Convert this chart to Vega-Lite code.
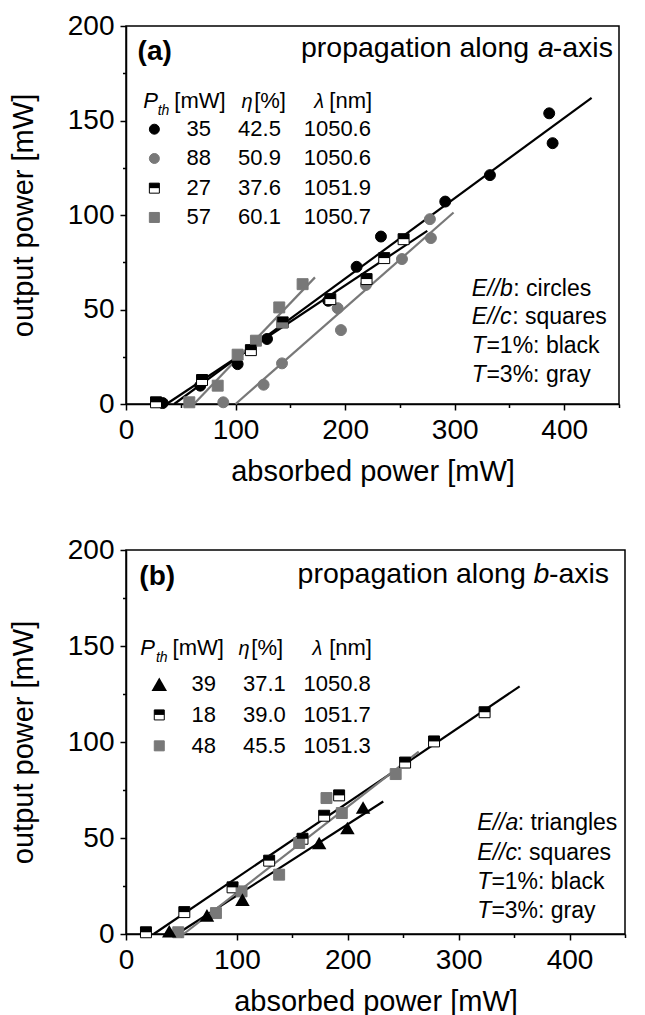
{
  "$schema": "https://vega.github.io/schema/vega-lite/v6.json",
  "background": "white",
  "padding": {"left": 8, "top": 11, "right": 0, "bottom": 0},
  "spacing": 48,
  "config": {
    "font": "Liberation Sans",
    "view": {"stroke": "black", "strokeWidth": 1.5},
    "axis": {"grid": false, "domainColor": "black", "domainWidth": 1.5, "tickColor": "black", "tickWidth": 1.5, "labelColor": "black", "titleColor": "black", "labelFontSize": 28, "titleFontSize": 29, "titleFontWeight": "normal", "labelPadding": 6, "labelFont": "Liberation Sans", "titleFont": "Liberation Sans", "labelFlush": false, "labelOverlap": false},
    "axisX": {"titlePadding": 13},
    "axisY": {"titlePadding": 29},
    "text": {"font": "Liberation Sans", "color": "black"}
  },
  "datasets": {
    "a_pts": [
      {"series": "E//b, T=1%", "x": 33.5, "y": 0.5},
      {"series": "E//b, T=1%", "x": 67.8, "y": 9.7},
      {"series": "E//b, T=1%", "x": 101.9, "y": 21.1},
      {"series": "E//b, T=1%", "x": 128.7, "y": 34.4},
      {"series": "E//b, T=1%", "x": 184.6, "y": 54.6},
      {"series": "E//b, T=1%", "x": 210.5, "y": 72.6},
      {"series": "E//b, T=1%", "x": 232.7, "y": 88.6},
      {"series": "E//b, T=1%", "x": 291.4, "y": 107.1},
      {"series": "E//b, T=1%", "x": 332.2, "y": 121.1},
      {"series": "E//b, T=1%", "x": 386.3, "y": 153.8},
      {"series": "E//b, T=1%", "x": 389.4, "y": 138.0},
      {"series": "E//b, T=3%", "x": 88.8, "y": 0.9},
      {"series": "E//b, T=3%", "x": 125.6, "y": 10.2},
      {"series": "E//b, T=3%", "x": 142.4, "y": 21.5},
      {"series": "E//b, T=3%", "x": 193.2, "y": 50.7},
      {"series": "E//b, T=3%", "x": 196.2, "y": 39.1},
      {"series": "E//b, T=3%", "x": 219.0, "y": 63.0},
      {"series": "E//b, T=3%", "x": 251.9, "y": 76.7},
      {"series": "E//b, T=3%", "x": 278.3, "y": 87.8},
      {"series": "E//b, T=3%", "x": 277.4, "y": 97.8},
      {"series": "E//c, T=1%", "x": 27.4, "y": 0.9},
      {"series": "E//c, T=1%", "x": 69.4, "y": 12.7},
      {"series": "E//c, T=1%", "x": 114.0, "y": 28.5},
      {"series": "E//c, T=1%", "x": 143.0, "y": 43.2},
      {"series": "E//c, T=1%", "x": 186.5, "y": 55.5},
      {"series": "E//c, T=1%", "x": 219.6, "y": 66.1},
      {"series": "E//c, T=1%", "x": 235.7, "y": 77.2},
      {"series": "E//c, T=1%", "x": 253.4, "y": 87.2},
      {"series": "E//c, T=3%", "x": 57.8, "y": 0.9},
      {"series": "E//c, T=3%", "x": 83.7, "y": 9.7},
      {"series": "E//c, T=3%", "x": 101.9, "y": 26.1},
      {"series": "E//c, T=3%", "x": 118.6, "y": 33.5},
      {"series": "E//c, T=3%", "x": 139.9, "y": 51.1},
      {"series": "E//c, T=3%", "x": 142.4, "y": 43.2},
      {"series": "E//c, T=3%", "x": 161.2, "y": 63.4}
    ],
    "a_lines": [
      {"series": "E//b, T=1%", "x": 44, "y": 0},
      {"series": "E//b, T=1%", "x": 425, "y": 162},
      {"series": "E//c, T=1%", "x": 37, "y": 0},
      {"series": "E//c, T=1%", "x": 275, "y": 91.6},
      {"series": "E//c, T=3%", "x": 62, "y": 0},
      {"series": "E//c, T=3%", "x": 172.5, "y": 67},
      {"series": "E//b, T=3%", "x": 100, "y": 0},
      {"series": "E//b, T=3%", "x": 299, "y": 101.3}
    ],
    "a_table": [
      {"series": "E//b, T=1%", "x": 25.9, "y": 145.4, "pth": "35", "eta": "42.5", "lam": "1050.6"},
      {"series": "E//b, T=3%", "x": 25.9, "y": 129.9, "pth": "88", "eta": "50.9", "lam": "1050.6"},
      {"series": "E//c, T=1%", "x": 25.9, "y": 114.2, "pth": "27", "eta": "37.6", "lam": "1051.9"},
      {"series": "E//c, T=3%", "x": 25.9, "y": 98.7, "pth": "57", "eta": "60.1", "lam": "1050.7"}
    ],
    "a_text": [
      {"role": "tag", "text": "(a)", "x": 10.6, "y": 182},
      {"role": "title", "text": "propagation along", "x": 159.7, "y": 183.6},
      {"role": "title-var", "text": "a", "x": 376, "y": 183.6},
      {"role": "title", "text": "-axis", "x": 389.5, "y": 183.6},
      {"role": "head-var", "text": "P", "x": 15.8, "y": 156.5},
      {"role": "head-sub", "text": "th", "x": 28.9, "y": 153},
      {"role": "head", "text": "[mW]", "x": 44.1, "y": 156.5},
      {"role": "head-greek", "text": "η", "x": 105.5, "y": 156.5},
      {"role": "head", "text": "[%]", "x": 117, "y": 156.5},
      {"role": "head-greek", "text": "λ", "x": 171.9, "y": 156.5},
      {"role": "head", "text": "[nm]", "x": 185.6, "y": 156.5},
      {"role": "note-var", "text": "E//b", "x": 315.7, "y": 57.3},
      {"role": "note", "text": ": circles", "x": 353.5, "y": 57.3},
      {"role": "note-var", "text": "E//c", "x": 315.7, "y": 42.3},
      {"role": "note", "text": ": squares", "x": 352.5, "y": 42.3},
      {"role": "note-var", "text": "T", "x": 315.7, "y": 26.8},
      {"role": "note", "text": "=1%: black", "x": 329, "y": 26.8},
      {"role": "note-var", "text": "T", "x": 315.7, "y": 11.5},
      {"role": "note", "text": "=3%: gray", "x": 329, "y": 11.5}
    ],
    "b_pts": [
      {"series": "E//a, T=1%", "x": 39, "y": 1.4},
      {"series": "E//a, T=1%", "x": 73, "y": 9.7},
      {"series": "E//a, T=1%", "x": 105, "y": 17.9},
      {"series": "E//a, T=1%", "x": 174.2, "y": 47.4},
      {"series": "E//a, T=1%", "x": 199.7, "y": 55.2},
      {"series": "E//a, T=1%", "x": 213.8, "y": 65.9},
      {"series": "E//c, T=1%", "x": 18, "y": 0.9},
      {"series": "E//c, T=1%", "x": 52.6, "y": 11.4},
      {"series": "E//c, T=1%", "x": 96.1, "y": 24.3},
      {"series": "E//c, T=1%", "x": 129.1, "y": 38.2},
      {"series": "E//c, T=1%", "x": 159.2, "y": 49.6},
      {"series": "E//c, T=1%", "x": 178.7, "y": 61.6},
      {"series": "E//c, T=1%", "x": 192.2, "y": 72.2},
      {"series": "E//c, T=1%", "x": 251.7, "y": 89.3},
      {"series": "E//c, T=1%", "x": 277.8, "y": 100.3},
      {"series": "E//c, T=1%", "x": 323.4, "y": 115.5},
      {"series": "E//c, T=3%", "x": 47.1, "y": 0.9},
      {"series": "E//c, T=3%", "x": 81.1, "y": 10.9},
      {"series": "E//c, T=3%", "x": 104.2, "y": 22.2},
      {"series": "E//c, T=3%", "x": 138.1, "y": 30.9},
      {"series": "E//c, T=3%", "x": 156.2, "y": 47.4},
      {"series": "E//c, T=3%", "x": 180.8, "y": 70.8},
      {"series": "E//c, T=3%", "x": 194.6, "y": 63.0},
      {"series": "E//c, T=3%", "x": 243.2, "y": 83.3}
    ],
    "b_lines": [
      {"series": "E//c, T=1%", "x": 25, "y": 0},
      {"series": "E//c, T=1%", "x": 355, "y": 129},
      {"series": "E//a, T=1%", "x": 46, "y": 0},
      {"series": "E//a, T=1%", "x": 232, "y": 69},
      {"series": "E//c, T=3%", "x": 52, "y": 0},
      {"series": "E//c, T=3%", "x": 264, "y": 95}
    ],
    "b_table": [
      {"series": "E//a, T=1%", "x": 30, "y": 130.1, "pth": "39", "eta": "37.1", "lam": "1050.8"},
      {"series": "E//c, T=1%", "x": 30, "y": 114.1, "pth": "18", "eta": "39.0", "lam": "1051.7"},
      {"series": "E//c, T=3%", "x": 30, "y": 98.0, "pth": "48", "eta": "45.5", "lam": "1051.3"}
    ],
    "b_text": [
      {"role": "tag", "text": "(b)", "x": 12, "y": 181.8},
      {"role": "title", "text": "propagation along", "x": 154.7, "y": 182.7},
      {"role": "title-var", "text": "b", "x": 367.5, "y": 182.7},
      {"role": "title", "text": "-axis", "x": 381.4, "y": 182.7},
      {"role": "head-var", "text": "P", "x": 12.9, "y": 145.4},
      {"role": "head-sub", "text": "th", "x": 27, "y": 141.9},
      {"role": "head", "text": "[mW]", "x": 42, "y": 145.4},
      {"role": "head-greek", "text": "η", "x": 101.5, "y": 145.4},
      {"role": "head", "text": "[%]", "x": 113, "y": 145.4},
      {"role": "head-greek", "text": "λ", "x": 168.2, "y": 145.4},
      {"role": "head", "text": "[nm]", "x": 183.2, "y": 145.4},
      {"role": "note-var", "text": "E//a", "x": 316.8, "y": 54.3},
      {"role": "note", "text": ": triangles", "x": 353.2, "y": 54.3},
      {"role": "note-var", "text": "E//c", "x": 316.8, "y": 38.7},
      {"role": "note", "text": ": squares", "x": 352, "y": 38.7},
      {"role": "note-var", "text": "T", "x": 316.8, "y": 23.6},
      {"role": "note", "text": "=1%: black", "x": 329.5, "y": 23.6},
      {"role": "note-var", "text": "T", "x": 316.8, "y": 8.3},
      {"role": "note", "text": "=3%: gray", "x": 329.5, "y": 8.3}
    ]
  },
  "vconcat": [
    {
      "width": 493,
      "height": 378,
      "encoding": {
        "x": {"field": "x", "type": "quantitative", "scale": {"domain": [0, 450], "nice": false, "zero": false},
          "axis": {"title": "absorbed power [mW]", "values": [0, 50, 100, 150, 200, 250, 300, 350, 400, 450],
            "labelExpr": "datum.value % 100 === 0 ? datum.label : ''",
            "tickSize": {"condition": {"test": "datum.value % 100 === 0", "value": 6}, "value": 3.5}}},
        "y": {"field": "y", "type": "quantitative", "scale": {"domain": [0, 200], "nice": false, "zero": false},
          "axis": {"title": "output power [mW]", "values": [0, 25, 50, 75, 100, 125, 150, 175, 200],
            "labelExpr": "datum.value % 50 === 0 ? datum.label : ''",
            "tickSize": {"condition": {"test": "datum.value % 50 === 0", "value": 6}, "value": 3.5}}}
      },
      "layer": [
        {
          "data": {"name": "a_lines"},
          "mark": {"type": "line", "strokeWidth": 2.2},
          "encoding": {
            "stroke": {"field": "series", "type": "nominal", "scale": {"domain": ["E//b, T=1%", "E//b, T=3%", "E//c, T=1%", "E//c, T=3%"], "range": ["black", "#787878", "black", "#787878"]}, "legend": null}
          }
        },
        {
          "data": {"name": "a_pts"},
          "mark": {"type": "point", "filled": true, "opacity": 1, "strokeWidth": 1, "size": 120},
          "encoding": {
            "shape": {"field": "series", "type": "nominal", "scale": {"domain": ["E//b, T=1%", "E//b, T=3%", "E//c, T=1%", "E//c, T=3%"], "range": ["circle", "circle", "square", "square"]}, "legend": null},
            "fill": {"field": "series", "type": "nominal", "scale": {"domain": ["E//b, T=1%", "E//b, T=3%", "E//c, T=1%", "E//c, T=3%"], "range": ["black", "#787878", "white", "#787878"]}, "legend": null},
            "stroke": {"field": "series", "type": "nominal", "legend": null}
          }
        },
        {
          "data": {"name": "a_pts"},
          "transform": [{"filter": "datum.series === 'E//c, T=1%'"}],
          "mark": {"type": "point", "shape": "M-1,-1L1,-1L1,0L-1,0Z", "filled": true, "fill": "black", "strokeWidth": 0, "opacity": 1, "size": 120},
          "encoding": {}
        },
        {
          "data": {"name": "a_table"},
          "mark": {"type": "point", "filled": true, "opacity": 1, "strokeWidth": 1, "size": 100},
          "encoding": {
            "shape": {"field": "series", "type": "nominal", "legend": null},
            "fill": {"field": "series", "type": "nominal", "legend": null},
            "stroke": {"field": "series", "type": "nominal", "legend": null}
          }
        },
        {
          "data": {"name": "a_table"},
          "transform": [{"filter": "datum.series === 'E//c, T=1%'"}],
          "mark": {"type": "point", "shape": "M-1,-1L1,-1L1,0L-1,0Z", "filled": true, "fill": "black", "strokeWidth": 0, "opacity": 1, "size": 100},
          "encoding": {}
        },
        {
          "data": {"name": "a_table"},
          "mark": {"type": "text", "align": "right", "baseline": "middle", "fontSize": 22},
          "encoding": {"x": {"datum": 77.6}, "text": {"field": "pth"}}
        },
        {
          "data": {"name": "a_table"},
          "mark": {"type": "text", "align": "right", "baseline": "middle", "fontSize": 22},
          "encoding": {"x": {"datum": 141.4}, "text": {"field": "eta"}}
        },
        {
          "data": {"name": "a_table"},
          "mark": {"type": "text", "align": "right", "baseline": "middle", "fontSize": 22},
          "encoding": {"x": {"datum": 223.6}, "text": {"field": "lam"}}
        },
        {
          "data": {"name": "a_text"},
          "transform": [{"filter": "datum.role === 'tag'"}],
          "mark": {"type": "text", "align": "left", "baseline": "alphabetic", "fontSize": 28, "fontWeight": "bold"},
          "encoding": {"text": {"field": "text"}}
        },
        {
          "data": {"name": "a_text"},
          "transform": [{"filter": "datum.role === 'title'"}],
          "mark": {"type": "text", "align": "left", "baseline": "alphabetic", "fontSize": 28.5},
          "encoding": {"text": {"field": "text"}}
        },
        {
          "data": {"name": "a_text"},
          "transform": [{"filter": "datum.role === 'title-var'"}],
          "mark": {"type": "text", "align": "left", "baseline": "alphabetic", "fontSize": 28.5, "fontStyle": "italic"},
          "encoding": {"text": {"field": "text"}}
        },
        {
          "data": {"name": "a_text"},
          "transform": [{"filter": "datum.role === 'head'"}],
          "mark": {"type": "text", "align": "left", "baseline": "alphabetic", "fontSize": 22},
          "encoding": {"text": {"field": "text"}}
        },
        {
          "data": {"name": "a_text"},
          "transform": [{"filter": "datum.role === 'head-var'"}],
          "mark": {"type": "text", "align": "left", "baseline": "alphabetic", "fontSize": 22, "fontStyle": "italic"},
          "encoding": {"text": {"field": "text"}}
        },
        {
          "data": {"name": "a_text"},
          "transform": [{"filter": "datum.role === 'head-greek'"}],
          "mark": {"type": "text", "align": "left", "baseline": "alphabetic", "fontSize": 20, "fontStyle": "italic"},
          "encoding": {"text": {"field": "text"}}
        },
        {
          "data": {"name": "a_text"},
          "transform": [{"filter": "datum.role === 'head-sub'"}],
          "mark": {"type": "text", "align": "left", "baseline": "alphabetic", "fontSize": 14, "fontStyle": "italic"},
          "encoding": {"text": {"field": "text"}}
        },
        {
          "data": {"name": "a_text"},
          "transform": [{"filter": "datum.role === 'note'"}],
          "mark": {"type": "text", "align": "left", "baseline": "alphabetic", "fontSize": 23},
          "encoding": {"text": {"field": "text"}}
        },
        {
          "data": {"name": "a_text"},
          "transform": [{"filter": "datum.role === 'note-var'"}],
          "mark": {"type": "text", "align": "left", "baseline": "alphabetic", "fontSize": 23, "fontStyle": "italic"},
          "encoding": {"text": {"field": "text"}}
        }
      ]
    },
    {
      "width": 499,
      "height": 384,
      "encoding": {
        "x": {"field": "x", "type": "quantitative", "scale": {"domain": [0, 450], "nice": false, "zero": false},
          "axis": {"title": "absorbed power [mW]", "values": [0, 50, 100, 150, 200, 250, 300, 350, 400, 450],
            "labelExpr": "datum.value % 100 === 0 ? datum.label : ''",
            "tickSize": {"condition": {"test": "datum.value % 100 === 0", "value": 6}, "value": 3.5}}},
        "y": {"field": "y", "type": "quantitative", "scale": {"domain": [0, 200], "nice": false, "zero": false},
          "axis": {"title": "output power [mW]", "values": [0, 25, 50, 75, 100, 125, 150, 175, 200],
            "labelExpr": "datum.value % 50 === 0 ? datum.label : ''",
            "tickSize": {"condition": {"test": "datum.value % 50 === 0", "value": 6}, "value": 3.5}}}
      },
      "layer": [
        {
          "data": {"name": "b_lines"},
          "mark": {"type": "line", "strokeWidth": 2.2},
          "encoding": {
            "stroke": {"field": "series", "type": "nominal", "scale": {"domain": ["E//a, T=1%", "E//c, T=1%", "E//c, T=3%"], "range": ["black", "black", "#787878"]}, "legend": null}
          }
        },
        {
          "data": {"name": "b_pts"},
          "transform": [{"filter": "datum.series !== 'E//a, T=1%'"}],
          "mark": {"type": "point", "filled": true, "opacity": 1, "strokeWidth": 1, "size": 120},
          "encoding": {
            "shape": {"field": "series", "type": "nominal", "scale": {"domain": ["E//a, T=1%", "E//c, T=1%", "E//c, T=3%"], "range": ["triangle-up", "square", "square"]}, "legend": null},
            "fill": {"field": "series", "type": "nominal", "scale": {"domain": ["E//a, T=1%", "E//c, T=1%", "E//c, T=3%"], "range": ["black", "white", "#787878"]}, "legend": null},
            "stroke": {"field": "series", "type": "nominal", "legend": null}
          }
        },
        {
          "data": {"name": "b_pts"},
          "transform": [{"filter": "datum.series === 'E//c, T=1%'"}],
          "mark": {"type": "point", "shape": "M-1,-1L1,-1L1,0L-1,0Z", "filled": true, "fill": "black", "strokeWidth": 0, "opacity": 1, "size": 120},
          "encoding": {}
        },
        {
          "data": {"name": "b_pts"},
          "transform": [{"filter": "datum.series === 'E//a, T=1%'"}],
          "mark": {"type": "point", "shape": "triangle-up", "filled": true, "fill": "black", "strokeWidth": 0, "opacity": 1, "size": 210},
          "encoding": {}
        },
        {
          "data": {"name": "b_table"},
          "transform": [{"filter": "datum.series !== 'E//a, T=1%'"}],
          "mark": {"type": "point", "filled": true, "opacity": 1, "strokeWidth": 1, "size": 100},
          "encoding": {
            "shape": {"field": "series", "type": "nominal", "legend": null},
            "fill": {"field": "series", "type": "nominal", "legend": null},
            "stroke": {"field": "series", "type": "nominal", "legend": null}
          }
        },
        {
          "data": {"name": "b_table"},
          "transform": [{"filter": "datum.series === 'E//c, T=1%'"}],
          "mark": {"type": "point", "shape": "M-1,-1L1,-1L1,0L-1,0Z", "filled": true, "fill": "black", "strokeWidth": 0, "opacity": 1, "size": 100},
          "encoding": {}
        },
        {
          "data": {"name": "b_table"},
          "transform": [{"filter": "datum.series === 'E//a, T=1%'"}],
          "mark": {"type": "point", "shape": "triangle-up", "filled": true, "fill": "black", "strokeWidth": 0, "opacity": 1, "size": 240},
          "encoding": {}
        },
        {
          "data": {"name": "b_table"},
          "mark": {"type": "text", "align": "right", "baseline": "middle", "fontSize": 22},
          "encoding": {"x": {"datum": 81.1}, "text": {"field": "pth"}}
        },
        {
          "data": {"name": "b_table"},
          "mark": {"type": "text", "align": "right", "baseline": "middle", "fontSize": 22},
          "encoding": {"x": {"datum": 144.1}, "text": {"field": "eta"}}
        },
        {
          "data": {"name": "b_table"},
          "mark": {"type": "text", "align": "right", "baseline": "middle", "fontSize": 22},
          "encoding": {"x": {"datum": 220.7}, "text": {"field": "lam"}}
        },
        {
          "data": {"name": "b_text"},
          "transform": [{"filter": "datum.role === 'tag'"}],
          "mark": {"type": "text", "align": "left", "baseline": "alphabetic", "fontSize": 28, "fontWeight": "bold"},
          "encoding": {"text": {"field": "text"}}
        },
        {
          "data": {"name": "b_text"},
          "transform": [{"filter": "datum.role === 'title'"}],
          "mark": {"type": "text", "align": "left", "baseline": "alphabetic", "fontSize": 28.5},
          "encoding": {"text": {"field": "text"}}
        },
        {
          "data": {"name": "b_text"},
          "transform": [{"filter": "datum.role === 'title-var'"}],
          "mark": {"type": "text", "align": "left", "baseline": "alphabetic", "fontSize": 28.5, "fontStyle": "italic"},
          "encoding": {"text": {"field": "text"}}
        },
        {
          "data": {"name": "b_text"},
          "transform": [{"filter": "datum.role === 'head'"}],
          "mark": {"type": "text", "align": "left", "baseline": "alphabetic", "fontSize": 22},
          "encoding": {"text": {"field": "text"}}
        },
        {
          "data": {"name": "b_text"},
          "transform": [{"filter": "datum.role === 'head-var'"}],
          "mark": {"type": "text", "align": "left", "baseline": "alphabetic", "fontSize": 22, "fontStyle": "italic"},
          "encoding": {"text": {"field": "text"}}
        },
        {
          "data": {"name": "b_text"},
          "transform": [{"filter": "datum.role === 'head-greek'"}],
          "mark": {"type": "text", "align": "left", "baseline": "alphabetic", "fontSize": 20, "fontStyle": "italic"},
          "encoding": {"text": {"field": "text"}}
        },
        {
          "data": {"name": "b_text"},
          "transform": [{"filter": "datum.role === 'head-sub'"}],
          "mark": {"type": "text", "align": "left", "baseline": "alphabetic", "fontSize": 14, "fontStyle": "italic"},
          "encoding": {"text": {"field": "text"}}
        },
        {
          "data": {"name": "b_text"},
          "transform": [{"filter": "datum.role === 'note'"}],
          "mark": {"type": "text", "align": "left", "baseline": "alphabetic", "fontSize": 23},
          "encoding": {"text": {"field": "text"}}
        },
        {
          "data": {"name": "b_text"},
          "transform": [{"filter": "datum.role === 'note-var'"}],
          "mark": {"type": "text", "align": "left", "baseline": "alphabetic", "fontSize": 23, "fontStyle": "italic"},
          "encoding": {"text": {"field": "text"}}
        }
      ]
    }
  ]
}
